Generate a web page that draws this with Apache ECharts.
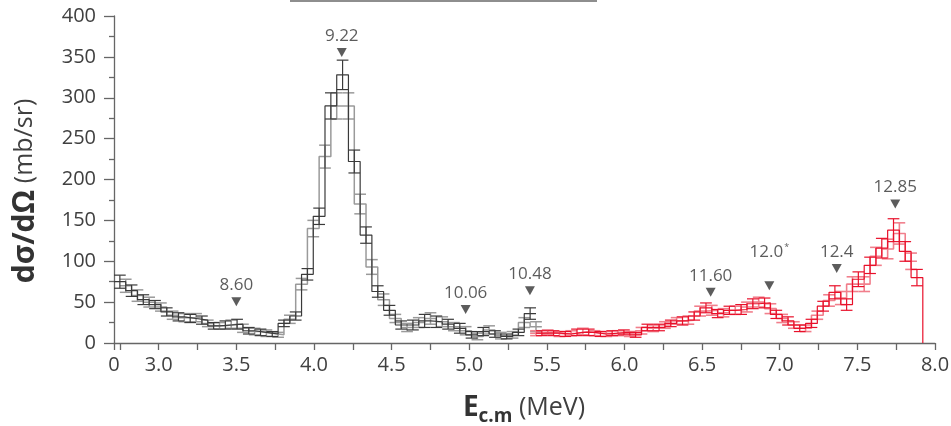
<!DOCTYPE html>
<html>
<head>
<meta charset="utf-8">
<script src="https://cdn.jsdelivr.net/npm/echarts@6/dist/echarts.min.js"></script>
<style>
  html, body { margin: 0; padding: 0; background: #ffffff; }
  #chart { width: 951px; height: 426px; }
</style>
</head>
<body>
<div id="chart"></div>
<script>
// ---- Axes -------------------------------------------------------------
const X_MIN = 2.712, X_MAX = 8.0;
const Y_MIN = 0, Y_MAX = 400, Y_STEP = 50;
const xTickValues = [2.712, 2.75, 3.0, 3.25, 3.5, 3.75, 4.0, 4.25, 4.5, 4.75, 5.0, 5.25,
                     5.5, 5.75, 6.0, 6.25, 6.5, 6.75, 7.0, 7.25, 7.5, 7.75, 8.0];
const xLabelValues = [2.712, 3.0, 3.5, 4.0, 4.5, 5.0, 5.5, 6.0, 6.5, 7.0, 7.5, 8.0];
const xLabelTexts  = ['0', '3.0', '3.5', '4.0', '4.5', '5.0', '5.5', '6.0', '6.5', '7.0', '7.5', '8.0'];

// ---- Histogram binning (two interleaved binnings, B shifted by half a bin) ----
const BIN_WIDTH = 0.0755;
const BIN_START_A = 2.712;
const BIN_START_B = 2.74975;
const BLACK_FIRST_BIN = 0;   // first bin index of the low-energy (black) runs
const RED_A_FIRST_BIN = 36;  // first bin index of the high-energy (red) run A
const RED_B_FIRST_BIN = 35;  // first bin index of the high-energy (red) run B

// dσ/dΩ (mb/sr) and uncertainties
const blackA    = [75, 64, 53, 47, 38, 32, 30, 28, 21, 22, 23, 15, 13, 11, 24, 33, 84, 155, 290, 328, 222, 132, 63, 40, 22, 22, 27, 26, 23, 18, 10, 14, 11, 8, 13, 36];
const blackAErr = [8, 7, 6, 5, 5, 5, 5, 5, 4, 5, 6, 4, 4, 3, 4, 5, 7, 10, 16, 18, 14, 10, 7, 6, 5, 6, 8, 7, 6, 6, 4, 5, 4, 3, 4, 7];
const blackB    = [70, 58, 50, 44, 34, 31, 31, 24, 21, 23, 18, 14, 12, 10, 29, 72, 140, 228, 290, 290, 170, 93, 53, 30, 19, 25, 30, 26, 20, 15, 8, 16, 9, 10, 25, 20];
const blackBErr = [8, 7, 6, 5, 5, 5, 5, 4, 4, 5, 5, 4, 4, 3, 5, 7, 10, 14, 16, 16, 12, 9, 7, 5, 5, 6, 7, 6, 5, 5, 4, 5, 4, 4, 6, 6];
const redA      = [12, 12, 11, 13, 13, 11, 12, 13, 10, 19, 19, 24, 27, 33, 43, 36, 40, 41, 48, 49, 35, 27, 18, 24, 45, 62, 47, 78, 95, 116, 138, 112, 80];
const redAErr   = [3, 3, 3, 4, 4, 3, 3, 3, 3, 4, 4, 4, 5, 5, 6, 5, 5, 6, 6, 6, 5, 5, 4, 5, 6, 8, 7, 9, 10, 12, 14, 12, 10];
const redB      = [12, 13, 11, 12, 14, 12, 11, 12, 11, 15, 18, 22, 27, 28, 39, 40, 37, 40, 44, 50, 42, 30, 22, 18, 34, 52, 55, 72, 72, 106, 115, 134, 100];
const redBErr   = [3, 3, 3, 3, 4, 3, 3, 3, 3, 4, 4, 4, 4, 5, 6, 6, 5, 5, 6, 6, 6, 5, 4, 4, 5, 7, 8, 9, 9, 11, 12, 13, 10];

// Resonance markers (excitation energies in MeV)
const levelNames    = ['8.60', '9.22', '10.06', '10.48', '11.60', '12.0*', '12.4', '12.85'];
const levelEnergies = [3.50, 4.179, 4.977, 5.391, 6.555, 6.933, 7.367, 7.744];
const levelHeights  = [50.5, 355.5, 41, 64, 62, 70, 91, 170];

// ---- Colours ----------------------------------------------------------
const C_AXIS = '#666666', C_TEXT = '#404040';
const C_BLACK = '#3a3a3a', C_GREY = '#9a9a9a';
const C_RED = '#e8102a', C_PINK = '#f17f8c';

// ---- Helpers ----------------------------------------------------------
function binLow(start, k) { return start + k * BIN_WIDTH; }

// Step outline: one point on each bin's low edge, closed on the last bin's high edge
function stepPoints(values, start, firstBin, dropToZero) {
  const pts = values.map((v, i) => [binLow(start, firstBin + i), v]);
  const last = firstBin + values.length;
  pts.push([binLow(start, last), dropToZero ? 0 : values[values.length - 1]]);
  return pts;
}
function errorPoints(values, errs, start, firstBin) {
  return values.map((v, i) => [binLow(start, firstBin + i) + BIN_WIDTH / 2, v, errs[i]]);
}

function stepSeries(data, color, width, z) {
  return {
    type: 'line', data: data, step: 'end', showSymbol: false, symbol: 'none',
    lineStyle: { color: color, width: width }, z: z, silent: true, animation: false
  };
}
function errorSeries(data, color, width, z) {
  return {
    type: 'custom', data: data, z: z, silent: true, animation: false,
    encode: { x: 0, y: 1 },
    renderItem: function (params, api) {
      const c = api.value(0), v = api.value(1), e = api.value(2);
      const top = api.coord([c, v + e]);
      const bot = api.coord([c, v - e]);
      const half = api.size([BIN_WIDTH, 0])[0] / 2;
      const style = { stroke: color, lineWidth: width };
      return {
        type: 'group',
        children: [
          { type: 'line', shape: { x1: top[0], y1: top[1], x2: bot[0], y2: bot[1] }, style: style },
          { type: 'line', shape: { x1: top[0] - half, y1: top[1], x2: top[0] + half, y2: top[1] }, style: style },
          { type: 'line', shape: { x1: bot[0] - half, y1: bot[1], x2: bot[0] + half, y2: bot[1] }, style: style }
        ]
      };
    }
  };
}

const markerData = levelNames.map((name, i) => {
  const item = { value: [levelEnergies[i], levelHeights[i]], name: name };
  if (name === '12.0*') item.label = { distance: 20 };
  return item;
});

// ---- Chart ------------------------------------------------------------
const chart = echarts.init(document.getElementById('chart'), null, { renderer: 'canvas' });

chart.setOption({
  animation: false,
  backgroundColor: '#ffffff',
  textStyle: { fontFamily: '"Open Sans", "Noto Sans", sans-serif' },
  grid: { left: 114, right: 16, top: 16, bottom: 83, containLabel: false, outerBoundsMode: 'none' },
  xAxis: {
    type: 'value', min: X_MIN, max: X_MAX,
    axisLine: { show: true, onZero: false, lineStyle: { color: C_AXIS, width: 1.3 } },
    axisTick: { show: true, customValues: xTickValues, length: 7, lineStyle: { color: C_AXIS, width: 1.3 } },
    axisLabel: {
      customValues: xLabelValues, margin: 12, fontSize: 20, color: C_TEXT,
      formatter: function (v) {
        const i = xLabelValues.findIndex(t => Math.abs(t - v) < 1e-6);
        return i >= 0 ? xLabelTexts[i] : '';
      }
    },
    splitLine: { show: false }
  },
  yAxis: {
    type: 'value', min: Y_MIN, max: Y_MAX, interval: Y_STEP,
    axisLine: { show: true, onZero: false, lineStyle: { color: C_AXIS, width: 1.3 } },
    axisTick: { show: true, length: 10, lineStyle: { color: C_AXIS, width: 1.3 } },
    minorTick: { show: true, splitNumber: 2, length: 5, lineStyle: { color: C_AXIS, width: 1.3 } },
    axisLabel: { margin: 18, fontSize: 20, color: C_TEXT },
    splitLine: { show: false },
    minorSplitLine: { show: false }
  },
  graphic: [
    { type: 'rect', shape: { x: 290, y: 0, width: 307, height: 2 }, style: { fill: '#8e8e8e' }, silent: true },
    {
      type: 'text', x: 25, y: 191, rotation: Math.PI / 2, silent: true,
      style: {
        text: '{b|dσ/dΩ}  {n|(mb/sr)}',
        align: 'center', verticalAlign: 'middle',
        rich: {
          b: { fontFamily: '"Open Sans", sans-serif', fontWeight: 'bold', fontSize: 30, fill: '#333333', lineHeight: 34 },
          n: { fontFamily: '"Open Sans", sans-serif', fontSize: 25, fill: C_TEXT, lineHeight: 34 }
        }
      }
    },
    {
      type: 'text', x: 524, y: 408, silent: true,
      style: {
        text: '{e|E}{s|c.m}{n| (MeV)}',
        align: 'center', verticalAlign: 'middle',
        rich: {
          e: { fontFamily: '"Open Sans", sans-serif', fontWeight: 'bold', fontSize: 28, fill: '#333333', lineHeight: 36 },
          s: { fontFamily: '"Open Sans", sans-serif', fontWeight: 'bold', fontSize: 19, fill: '#333333', lineHeight: 18, verticalAlign: 'bottom' },
          n: { fontFamily: '"Open Sans", sans-serif', fontSize: 25, fill: C_TEXT, lineHeight: 36 }
        }
      }
    }
  ],
  series: [
    stepSeries(stepPoints(blackB, BIN_START_B, BLACK_FIRST_BIN, false), C_GREY, 1.5, 1),
    errorSeries(errorPoints(blackB, blackBErr, BIN_START_B, BLACK_FIRST_BIN), C_GREY, 1.5, 1),
    stepSeries(stepPoints(blackA, BIN_START_A, BLACK_FIRST_BIN, false), C_BLACK, 1.2, 2),
    errorSeries(errorPoints(blackA, blackAErr, BIN_START_A, BLACK_FIRST_BIN), C_BLACK, 1.2, 2),
    stepSeries(stepPoints(redB, BIN_START_B, RED_B_FIRST_BIN, false), C_PINK, 1.6, 3),
    errorSeries(errorPoints(redB, redBErr, BIN_START_B, RED_B_FIRST_BIN), C_PINK, 1.6, 3),
    stepSeries(stepPoints(redA, BIN_START_A, RED_A_FIRST_BIN, true), C_RED, 1.2, 4),
    errorSeries(errorPoints(redA, redAErr, BIN_START_A, RED_A_FIRST_BIN), C_RED, 1.2, 4),
    {
      type: 'scatter', data: markerData, z: 5, silent: true, animation: false,
      symbol: 'triangle', symbolRotate: 180, symbolSize: [10, 9],
      itemStyle: { color: '#333333' },
      label: {
        show: true, position: 'top', distance: 3,
        fontSize: 17, color: '#333333', lineHeight: 18,
        formatter: function (p) {
          return p.name === '12.0*' ? '12.0{sup|*}' : p.name;
        },
        rich: { sup: { fontSize: 9, color: '#333333', verticalAlign: 'top', lineHeight: 18, padding: [0, 0, 8, 1] } }
      }
    }
  ]
});
</script>
</body>
</html>
